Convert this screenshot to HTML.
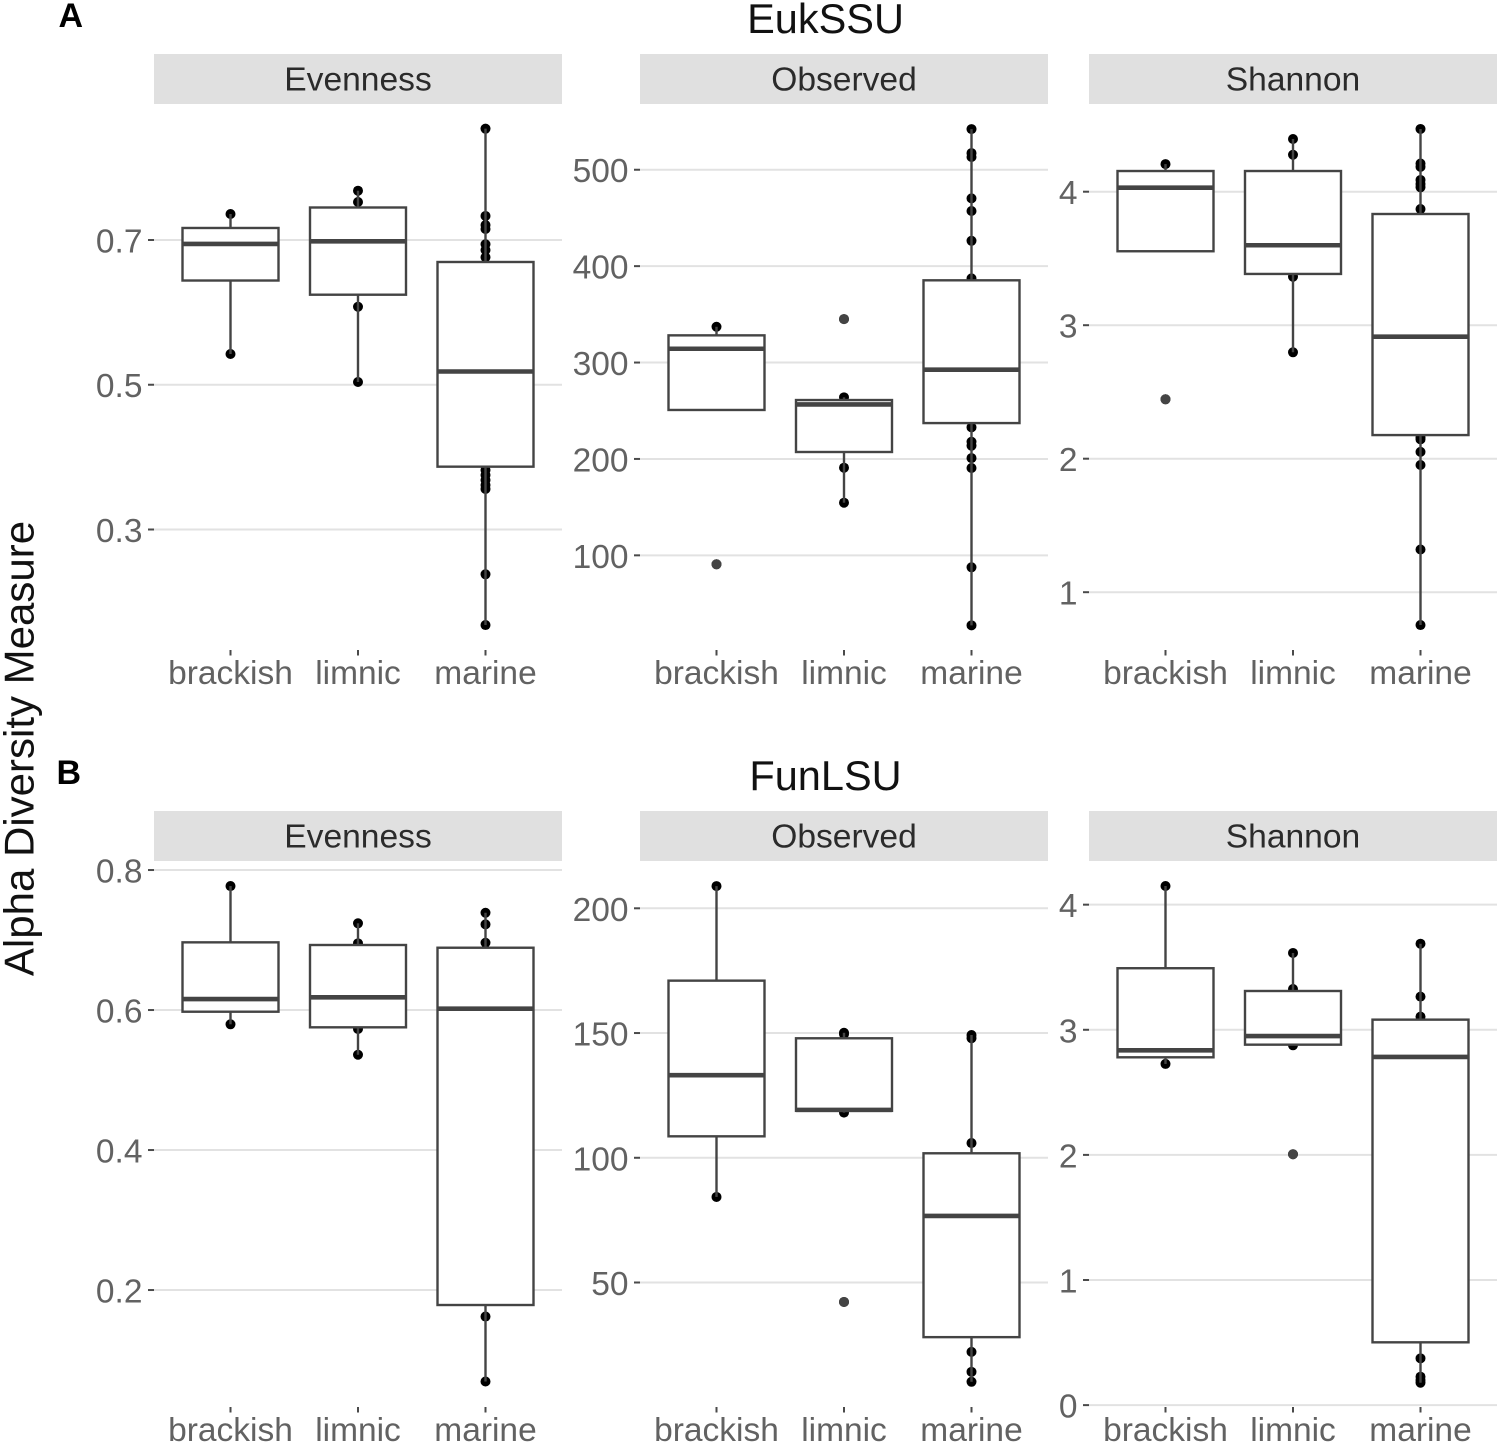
<!DOCTYPE html>
<html lang="en">
<head>
<meta charset="utf-8">
<title>Alpha Diversity Measure</title>
<style>
html,body{margin:0;padding:0;background:#fff;}
svg{display:block;position:absolute;left:0;top:0;}
text{font-family:"Liberation Sans",Arial,sans-serif;}
</style>
</head>
<body>
<svg id="figure" xmlns="http://www.w3.org/2000/svg" width="1500" height="1446" viewBox="0 0 1500 1446">
<rect width="1500" height="1446" fill="#fff"/>
<text transform="translate(33.5,748.5) rotate(-90)" text-anchor="middle" font-size="42" fill="#111">Alpha Diversity Measure</text>
<text x="58.5" y="27" font-size="34" font-weight="bold" fill="#000">A</text>
<text x="56.5" y="784" font-size="34" font-weight="bold" fill="#000">B</text>
<text x="825.5" y="33" text-anchor="middle" font-size="41.5" fill="#111">EukSSU</text>
<text x="825.5" y="790" text-anchor="middle" font-size="41.5" fill="#111">FunLSU</text>
<g id="panels"></g>
</svg>
<script>
const categories = ['brackish', 'limnic', 'marine'];

// EukSSU - Evenness
const eukEvennessDomain = [0.1335, 0.8879];
const eukEvennessTicks = [0.3, 0.5, 0.7];
const eukEvennessTickLabels = ['0.3', '0.5', '0.7'];
const eukEvennessQ1 = [0.644, 0.6244, 0.3868];
const eukEvennessMedian = [0.6945, 0.6982, 0.5183];
const eukEvennessQ3 = [0.7166, 0.7449, 0.6696];
const eukEvennessPoints = [
  [0.7359, 0.5425],
  [0.7681, 0.7525, 0.6078, 0.5038],
  [0.8538, 0.7332, 0.7207, 0.7152, 0.6941, 0.6862, 0.6761, 0.3822, 0.3753, 0.3684, 0.3615, 0.356, 0.2381, 0.168]
];
const eukEvennessOutliers = [[], [], []];

// EukSSU - Observed
const eukObservedDomain = [1.8, 568.2];
const eukObservedTicks = [100, 200, 300, 400, 500];
const eukObservedTickLabels = ['100', '200', '300', '400', '500'];
const eukObservedQ1 = [250.8, 207.2, 237.2];
const eukObservedMedian = [314.3, 256.5, 292.6];
const eukObservedQ3 = [328.2, 261.1, 385.3];
const eukObservedPoints = [
  [337.1],
  [263.9, 190.9, 154.6],
  [542.2, 517.3, 513.2, 470.3, 457.2, 426.3, 387.3, 232.8, 217.8, 213.7, 200.9, 190.6, 87.6, 27.4]
];
const eukObservedOutliers = [[90.7], [345.1], []];

// EukSSU - Shannon
const eukShannonDomain = [0.567, 4.657];
const eukShannonTicks = [1, 2, 3, 4];
const eukShannonTickLabels = ['1', '2', '3', '4'];
const eukShannonQ1 = [3.554, 3.384, 2.177];
const eukShannonMedian = [4.03, 3.599, 2.914];
const eukShannonQ3 = [4.155, 4.155, 3.833];
const eukShannonPoints = [
  [4.207],
  [4.395, 4.277, 3.363, 2.797],
  [4.47, 4.211, 4.186, 4.088, 4.058, 4.033, 3.87, 2.16, 2.145, 2.051, 1.953, 1.32, 0.754]
];
const eukShannonOutliers = [[2.445], [], []];

// FunLSU - Evenness
const funEvennessDomain = [0.0329, 0.8129];
const funEvennessTicks = [0.2, 0.4, 0.6, 0.8];
const funEvennessTickLabels = ['0.2', '0.4', '0.6', '0.8'];
const funEvennessQ1 = [0.5976, 0.5753, 0.1786];
const funEvennessMedian = [0.6157, 0.6181, 0.6019];
const funEvennessQ3 = [0.6967, 0.6929, 0.689];
const funEvennessPoints = [
  [0.7771, 0.5796],
  [0.7239, 0.6953, 0.5729, 0.5361],
  [0.739, 0.7224, 0.6961, 0.1621, 0.0693]
];
const funEvennessOutliers = [[], [], []];

// FunLSU - Observed
const funObservedDomain = [0.1, 218.96];
const funObservedTicks = [50, 100, 150, 200];
const funObservedTickLabels = ['50', '100', '150', '200'];
const funObservedQ1 = [108.6, 118.8, 28.1];
const funObservedMedian = [133.1, 119.2, 76.7];
const funObservedQ3 = [171, 147.9, 101.8];
const funObservedPoints = [
  [208.9, 84.3],
  [150.1, 149.5, 118.1],
  [149.2, 147.9, 105.9, 22.2, 14.2, 10.2]
];
const funObservedOutliers = [[], [42.2], []];

// FunLSU - Shannon
const funShannonDomain = [-0.015, 4.349];
const funShannonTicks = [0, 1, 2, 3, 4];
const funShannonTickLabels = ['0', '1', '2', '3', '4'];
const funShannonQ1 = [2.78, 2.881, 0.502];
const funShannonMedian = [2.836, 2.95, 2.783];
const funShannonQ3 = [3.492, 3.31, 3.081];
const funShannonPoints = [
  [4.149, 2.727],
  [3.614, 3.326, 2.876],
  [3.688, 3.265, 3.105, 0.374, 0.227, 0.201, 0.179]
];
const funShannonOutliers = [[], [2.005], []];

const NS = 'http://www.w3.org/2000/svg';
const root = document.getElementById('panels');

function node(parent, tag, attrs, text) {
  const el = document.createElementNS(NS, tag);
  for (const k in attrs) el.setAttribute(k, attrs[k]);
  if (text !== undefined) el.textContent = text;
  parent.appendChild(el);
  return el;
}

function xScale(left, width) {
  const unit = width / 3.2;
  return i => left + (i + 0.6) * unit;
}

function yScale(top, bottom, domain) {
  return v => top + (domain[1] - v) / (domain[1] - domain[0]) * (bottom - top);
}

function drawPanel(p) {
  const width = 408;
  const g = node(root, 'g', {});
  
  

  const strip = node(g, 'rect', {x: p.left, y: p.top - 50, width: width, height: 50, fill: '#e0e0e0'});
  
  
  const stripText = node(g, 'text', {x: p.left + width / 2, y: p.top - 13.5, 'text-anchor': 'middle', 'font-size': 33.6, fill: '#2b2b2b'}, p.name);
  
  

  const x = xScale(p.left, width);
  const y = yScale(p.top, p.bottom, p.domain);

  p.ticks.forEach((t, i) => {
    const grid = node(g, 'line', {x1: p.left, x2: p.left + width, y1: y(t), y2: y(t), stroke: '#e2e2e2', 'stroke-width': 2});
    
    
    const tick = node(g, 'line', {x1: p.left - 6, x2: p.left, y1: y(t), y2: y(t), stroke: '#4a4a4a', 'stroke-width': 2});
    
    
    const label = node(g, 'text', {x: p.left - 11.5, y: y(t) + 12.5, 'text-anchor': 'end', 'font-size': 33.5, fill: '#626262'}, p.tickLabels[i]);
    
    
  });

  categories.forEach((c, i) => {
    const cx = x(i);
    const tick = node(g, 'line', {x1: cx, x2: cx, y1: p.bottom, y2: p.bottom + 5.5, stroke: '#4a4a4a', 'stroke-width': 2});
    
    
    const label = node(g, 'text', {x: cx, y: p.bottom + 34, 'text-anchor': 'middle', 'font-size': 33.5, fill: '#626262'}, c);
    
    
  });

  categories.forEach((c, i) => {
    const cx = x(i);
    const boxWidth = 96;
    const group = node(g, 'g', {});
    
    

    const all = p.points[i].concat(p.outliers[i]);
    all.forEach(v => {
      const dot = node(group, 'circle', {cx: cx, cy: y(v), r: 5, fill: '#000'});
      
      
    });

    const upper = Math.max(p.q3[i], ...p.points[i]);
    const lower = Math.min(p.q1[i], ...p.points[i]);
    const whiskerHigh = node(group, 'line', {x1: cx, x2: cx, y1: y(upper), y2: y(p.q3[i]), stroke: '#444', 'stroke-width': 2.4});
    
    
    const whiskerLow = node(group, 'line', {x1: cx, x2: cx, y1: y(p.q1[i]), y2: y(lower), stroke: '#444', 'stroke-width': 2.4});
    
    

    const box = node(group, 'rect', {x: cx - boxWidth / 2, y: y(p.q3[i]), width: boxWidth, height: y(p.q1[i]) - y(p.q3[i]), fill: '#fff', stroke: '#444', 'stroke-width': 2.4});
    
    
    const median = node(group, 'line', {x1: cx - boxWidth / 2, x2: cx + boxWidth / 2, y1: y(p.median[i]), y2: y(p.median[i]), stroke: '#444', 'stroke-width': 4.6});
    
    

    p.outliers[i].forEach(v => {
      const out = node(group, 'circle', {cx: cx, cy: y(v), r: 5, fill: '#444'});
      
      
    });
  });
}

const rowA = {top: 104, bottom: 650};
const rowB = {top: 861, bottom: 1407};

drawPanel({id: 'euk-evenness', name: 'Evenness', left: 154, top: rowA.top, bottom: rowA.bottom, domain: eukEvennessDomain, ticks: eukEvennessTicks, tickLabels: eukEvennessTickLabels, q1: eukEvennessQ1, median: eukEvennessMedian, q3: eukEvennessQ3, points: eukEvennessPoints, outliers: eukEvennessOutliers});
drawPanel({id: 'euk-observed', name: 'Observed', left: 640, top: rowA.top, bottom: rowA.bottom, domain: eukObservedDomain, ticks: eukObservedTicks, tickLabels: eukObservedTickLabels, q1: eukObservedQ1, median: eukObservedMedian, q3: eukObservedQ3, points: eukObservedPoints, outliers: eukObservedOutliers});
drawPanel({id: 'euk-shannon', name: 'Shannon', left: 1089, top: rowA.top, bottom: rowA.bottom, domain: eukShannonDomain, ticks: eukShannonTicks, tickLabels: eukShannonTickLabels, q1: eukShannonQ1, median: eukShannonMedian, q3: eukShannonQ3, points: eukShannonPoints, outliers: eukShannonOutliers});
drawPanel({id: 'fun-evenness', name: 'Evenness', left: 154, top: rowB.top, bottom: rowB.bottom, domain: funEvennessDomain, ticks: funEvennessTicks, tickLabels: funEvennessTickLabels, q1: funEvennessQ1, median: funEvennessMedian, q3: funEvennessQ3, points: funEvennessPoints, outliers: funEvennessOutliers});
drawPanel({id: 'fun-observed', name: 'Observed', left: 640, top: rowB.top, bottom: rowB.bottom, domain: funObservedDomain, ticks: funObservedTicks, tickLabels: funObservedTickLabels, q1: funObservedQ1, median: funObservedMedian, q3: funObservedQ3, points: funObservedPoints, outliers: funObservedOutliers});
drawPanel({id: 'fun-shannon', name: 'Shannon', left: 1089, top: rowB.top, bottom: rowB.bottom, domain: funShannonDomain, ticks: funShannonTicks, tickLabels: funShannonTickLabels, q1: funShannonQ1, median: funShannonMedian, q3: funShannonQ3, points: funShannonPoints, outliers: funShannonOutliers});
</script>
</body>
</html>
